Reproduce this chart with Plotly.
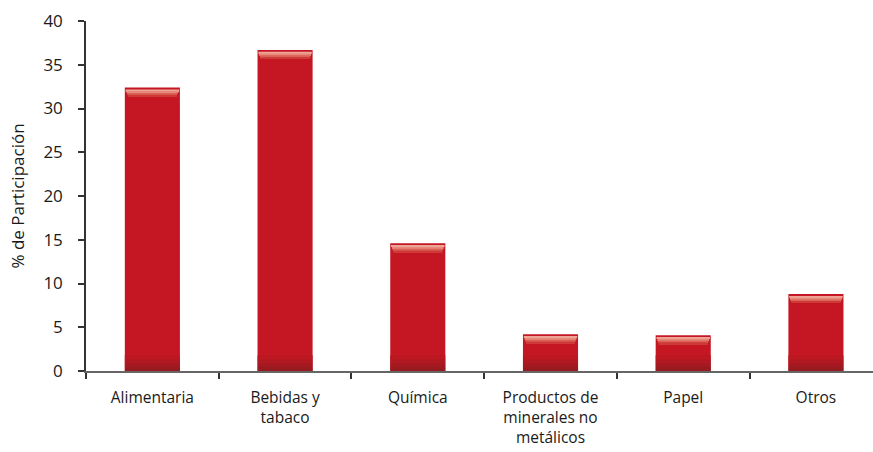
import plotly.graph_objects as go

categories = ["Alimentaria", "Bebidas y<br>tabaco", "Química",
              "Productos de<br>minerales no<br>metálicos", "Papel", "Otros"]
values = [32.4, 36.7, 14.6, 4.2, 4.1, 8.8]
y_ticks = [0, 5, 10, 15, 20, 25, 30, 35, 40]

BAR_W = 0.415
RED = "#C41723"
FONT = "Open Sans"

fig = go.Figure()
# main bars
fig.add_trace(go.Bar(x=categories, y=values, width=BAR_W, marker_color=RED,
                     marker_line_width=0, hoverinfo="skip"))
# bottom darker shading layers (soft gradient)
for lo, hi, col in [(0.0, 0.45, "#971A20"), (0.45, 0.9, "#A51A21"),
                    (0.9, 1.35, "#B11922"), (1.35, 1.8, "#BB1822")]:
    fig.add_trace(go.Bar(x=categories, y=[max(min(hi, v * 0.45) - lo, 0) for v in values],
                         base=[lo] * len(values), width=BAR_W, marker_color=col,
                         marker_line_width=0, hoverinfo="skip"))
# top highlight layers (gradient from light pink to red)
for lo, hi, col, w in [(0.22, 0.42, "#EFA596", BAR_W * 0.97),
                       (0.42, 0.62, "#E7897A", BAR_W * 0.94),
                       (0.62, 0.82, "#DA6257", BAR_W * 0.91),
                       (0.82, 1.02, "#CE3A38", BAR_W * 0.89)]:
    fig.add_trace(go.Bar(x=categories, y=[hi - lo] * len(values), base=[v - hi for v in values],
                         width=w, marker_color=col, marker_line_width=0, hoverinfo="skip"))

fig.update_layout(
    barmode="overlay",
    width=873, height=452,
    margin=dict(l=86, r=0, t=21, b=81, autoexpand=False),
    plot_bgcolor="white", paper_bgcolor="white",
    showlegend=False,
    font=dict(family=FONT, size=17, color="#1a1a1a"),
)
fig.update_xaxes(
    range=[-0.5, 5.43], tickson="boundaries", ticks="outside", ticklen=6,
    tickwidth=1.5, tickcolor="#333", showline=True, linecolor="#666", linewidth=1.8,
    showgrid=False, ticklabelstandoff=11, tickfont=dict(size=15.5),
)
fig.update_yaxes(
    range=[0, 40], tickvals=y_ticks, ticks="outside", ticklen=6, tickwidth=1.5,
    tickcolor="#333", showline=True, linecolor="#333", linewidth=1.5,
    showgrid=False, zeroline=False, ticklabelstandoff=12,
    title=dict(text="% de Participación", standoff=14, font=dict(size=17)),
)

fig.write_html("out.html")
